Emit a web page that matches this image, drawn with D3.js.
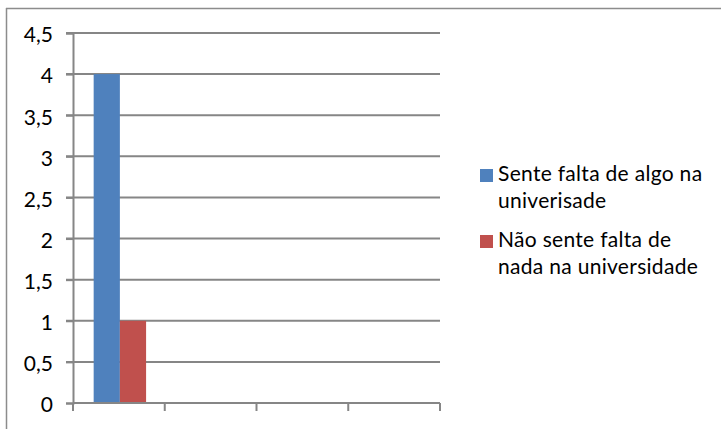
<!DOCTYPE html>
<html>
<head>
<meta charset="utf-8">
<script src="https://cdn.jsdelivr.net/npm/d3@7"></script>
<style>
  html, body { margin: 0; padding: 0; background: #fff; }
  svg { display: block; }
  text { font-family: Lato, "Open Sans", sans-serif; fill: #000; }
</style>
</head>
<body>
<script>
// ---- data ----
const categories = ["1", "2", "3", "4"];
const seriesNames = [
  ["Sente falta de algo na", "univerisade"],
  ["Não sente falta de", "nada na universidade"]
];
const seriesA = [4, null, null, null];
const seriesB = [1, null, null, null];
const yTicks = [0, 0.5, 1, 1.5, 2, 2.5, 3, 3.5, 4, 4.5];
const yTickLabels = ["0", "0,5", "1", "1,5", "2", "2,5", "3", "3,5", "4", "4,5"];
const colors = ["#4F81BD", "#C0504D"];

const W = 721, H = 429;
const svg = d3.select("body").append("svg").attr("width", W).attr("height", H);

// chart border (only top and left visible)
svg.append("line").attr("x1", 6).attr("x2", W).attr("y1", 8.5).attr("y2", 8.5)
  .attr("stroke", "#8c8c8c").attr("stroke-width", 1.5);
svg.append("line").attr("x1", 6.5).attr("x2", 6.5).attr("y1", 8).attr("y2", H)
  .attr("stroke", "#8c8c8c").attr("stroke-width", 1.5);

const plotL = 73, plotR = 440, plotT = 33, plotB = 403;
const y = d3.scaleLinear().domain([0, 4.5]).range([plotB, plotT]);
const x = d3.scaleBand().domain(categories).range([plotL, plotR]).padding(0);

const grid = "#868686";
// gridlines
svg.append("g").selectAll("line").data(yTicks.filter(d => d > 0)).join("line")
  .attr("x1", plotL - 7).attr("x2", plotR)
  .attr("y1", d => y(d)).attr("y2", d => y(d))
  .attr("stroke", grid).attr("stroke-width", 2);

// y axis
const yAxis = d3.axisLeft(y).tickValues(yTicks)
  .tickFormat((d, i) => yTickLabels[i]).tickSize(7).tickPadding(13);
const gy = svg.append("g").attr("transform", `translate(${plotL},0)`).call(yAxis);
gy.select(".domain").attr("stroke", grid).attr("stroke-width", 2);
gy.selectAll(".tick line").attr("stroke", grid).attr("stroke-width", 2);
gy.selectAll(".tick text").attr("font-size", 21).attr("font-family", "Lato, sans-serif").attr("dy", "0.42em");

// bars
const w = x.bandwidth() / 3.5;
const off = 0.75 * w;
[seriesA, seriesB].forEach((s, si) => {
  svg.append("g").selectAll("rect")
    .data(categories.map((c, i) => ({ c, v: s[i] })).filter(d => d.v != null))
    .join("rect")
    .attr("x", d => x(d.c) + off + si * w + 1)
    .attr("width", w)
    .attr("y", d => y(d.v))
    .attr("height", d => y(0) - y(d.v))
    .attr("fill", colors[si]);
});

// x axis
const xAxisLine = svg.append("g");
xAxisLine.append("line").attr("x1", plotL).attr("x2", plotR).attr("y1", plotB).attr("y2", plotB)
  .attr("stroke", grid).attr("stroke-width", 2);
const boundaries = categories.map(c => x(c)).concat([x(categories[categories.length - 1]) + x.bandwidth()]);
xAxisLine.selectAll("line.t").data(boundaries).join("line").attr("class", "t")
  .attr("x1", d => d).attr("x2", d => d).attr("y1", plotB).attr("y2", plotB + 8)
  .attr("stroke", grid).attr("stroke-width", 2);

// legend
const legY = [169, 235];
const lg = svg.append("g");
seriesNames.forEach((lines, i) => {
  lg.append("rect").attr("x", 480).attr("y", legY[i]).attr("width", 13).attr("height", 13).attr("fill", colors[i]);
  lines.forEach((t, j) => {
    lg.append("text").attr("x", 498).attr("y", legY[i] + 12 + j * 27)
      .attr("font-size", 21).attr("letter-spacing", 0.3).text(t);
  });
});
</script>
</body>
</html>
